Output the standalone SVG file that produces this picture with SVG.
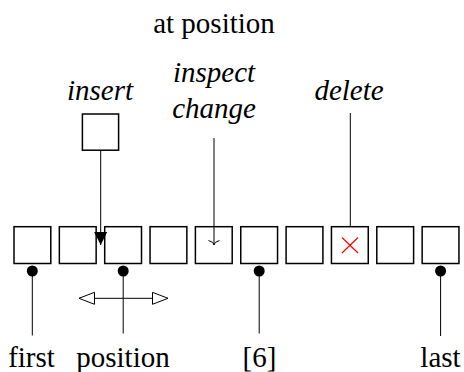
<svg xmlns="http://www.w3.org/2000/svg" width="464" height="372" viewBox="0 0 464 372">
<style>
.box{fill:#fff;stroke:#000;stroke-width:1.5}
.ln{stroke:#000;stroke-width:1;fill:none}
.t{font-size:29px;fill:#000;text-anchor:middle}
.dot{fill:#000}
</style>
<defs>
<marker id="filled" markerWidth="14" markerHeight="14" refX="6.5" refY="13" orient="0" markerUnits="userSpaceOnUse"><path d="M0,0 L13,0 L6.5,13 Z" fill="#000"/></marker>
<marker id="open" markerWidth="17" markerHeight="14" refX="16" refY="6.5" orient="auto" markerUnits="userSpaceOnUse"><path d="M16,6.5 L0.5,0.5 L0.5,12.5 Z" fill="#fff" stroke="#000" stroke-width="1"/></marker>
</defs>
<g id="labels" font-family="Liberation Serif, Times New Roman, serif">
<text class="t" x="214" y="33">at position</text>
<text class="t" font-style="italic" x="100" y="100">insert</text>
<text class="t" font-style="italic" x="214" y="82">inspect</text>
<text class="t" font-style="italic" x="214" y="118">change</text>
<text class="t" font-style="italic" x="349" y="100">delete</text>
<text class="t" x="31.5" y="366.5">first</text>
<text class="t" x="123" y="366.5">position</text>
<text class="t" x="259.5" y="366.5">[6]</text>
<text class="t" x="440.5" y="366.5">last</text>
</g>
<g id="insert-box"><rect class="box" x="82.4" y="114" width="36.2" height="36.2"/></g>
<g id="list">
<rect id="n0" class="box" x="14" y="226.7" width="36.8" height="36.8"/>
<rect id="n1" class="box" x="59.35" y="226.7" width="36.8" height="36.8"/>
<rect id="n2" class="box" x="104.7" y="226.7" width="36.8" height="36.8"/>
<rect id="n3" class="box" x="150.05" y="226.7" width="36.8" height="36.8"/>
<rect id="n4" class="box" x="195.4" y="226.7" width="36.8" height="36.8"/>
<rect id="n5" class="box" x="240.75" y="226.7" width="36.8" height="36.8"/>
<rect id="n6" class="box" x="286.1" y="226.7" width="36.8" height="36.8"/>
<rect id="n7" class="box" x="331.45" y="226.7" width="36.8" height="36.8"/>
<rect id="n8" class="box" x="376.8" y="226.7" width="36.8" height="36.8"/>
<rect id="n9" class="box" x="422.15" y="226.7" width="36.8" height="36.8"/>
<g id="deleted-mark" stroke="#f00" stroke-width="1.2">
<line x1="342" y1="237.5" x2="358" y2="253"/>
<line x1="358" y1="237.5" x2="342" y2="253"/>
</g>
</g>
<g id="connectors">
<line class="ln" x1="100.7" y1="150.5" x2="100.7" y2="245" marker-end="url(#filled)"/>
<line class="ln" x1="214" y1="138" x2="214" y2="245"/>
<path class="ln" d="M208.5,240.5 Q214,242 214,245 Q214,242 219.5,240.5"/>
<line class="ln" x1="350.3" y1="113" x2="350.3" y2="226.7"/>
<line class="ln" x1="32.3" y1="271" x2="32.3" y2="335.5"/>
<circle class="dot" cx="32.3" cy="271" r="5.5"/>
<line class="ln" x1="123.2" y1="271" x2="123.2" y2="333.5"/>
<circle class="dot" cx="123.2" cy="271" r="5.5"/>
<line class="ln" x1="259.2" y1="271" x2="259.2" y2="333.5"/>
<circle class="dot" cx="259.2" cy="271" r="5.5"/>
<line class="ln" x1="440.6" y1="271" x2="440.6" y2="336"/>
<circle class="dot" cx="440.6" cy="271" r="5.5"/>
<line class="ln" x1="123.2" y1="298.3" x2="168" y2="298.3" marker-end="url(#open)"/>
<line class="ln" x1="123.2" y1="298.3" x2="79" y2="298.3" marker-end="url(#open)"/>
</g>
</svg>
